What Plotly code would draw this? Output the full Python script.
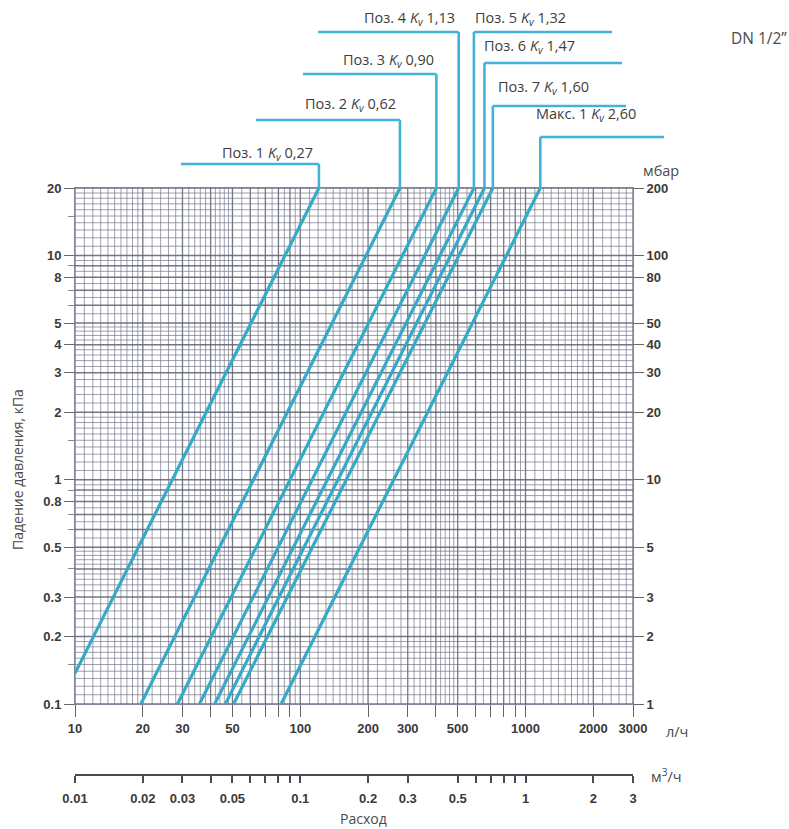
import numpy as np
import plotly.graph_objects as go

# ---------------- data ----------------
kv_values = [0.27, 0.62, 0.90, 1.13, 1.32, 1.47, 1.60, 2.60]
kv_labels = ["Поз. 1", "Поз. 2", "Поз. 3", "Поз. 4", "Поз. 5", "Поз. 6", "Поз. 7", "Макс. 1"]
kv_text = ["0,27", "0,62", "0,90", "1,13", "1,32", "1,47", "1,60", "2,60"]
# line end points: flow (l/h) / pressure drop (kPa)
q_top = [121, 277, 402, 505, 590, 657, 716, 1163]
dp_top = [20, 20, 20, 20, 20, 20, 20, 20]
q_bot = [10, 19.6, 28.5, 35.7, 41.7, 46.5, 50.6, 82.2]
dp_bot = [0.137, 0.1, 0.1, 0.1, 0.1, 0.1, 0.1, 0.1]

x_ticks = [10, 20, 30, 50, 100, 200, 300, 500, 1000, 2000, 3000]
x_minor = [40, 60, 70, 80, 90, 400, 600, 700, 800, 900]
x_short = [15, 150, 1500]
y_ticks = [0.1, 0.2, 0.3, 0.5, 0.8, 1, 2, 3, 4, 5, 8, 10, 20]
y_tick_text = ["0.1", "0.2", "0.3", "0.5", "0.8", "1", "2", "3", "4", "5", "8", "10", "20"]
y_minor = [0.15, 0.4, 0.6, 0.7, 0.9, 1.5, 6, 7, 9, 15]
mbar_ticks = [1, 2, 3, 5, 10, 20, 30, 40, 50, 80, 100, 200]
m3_ticks = [0.01, 0.02, 0.03, 0.05, 0.1, 0.2, 0.3, 0.5, 1, 2, 3]
m3_minor = [0.04, 0.06, 0.07, 0.08, 0.09, 0.6, 0.7, 0.8, 0.9]

X_RANGE = [10, 3000]
Y_RANGE = [0.1, 20]

# ---------------- layout geometry ----------------
W, H = 789, 829
ML, MR, MT, MB = 75, 156, 188, 20
PW = W - ML - MR
PH = H - MT - MB
PLOT_BOTTOM = 704


def px_x(px):
    return (px - ML) / PW


def px_y(py):
    return (H - MB - py) / PH


def q_to_paper(q):
    return (np.log10(q) - np.log10(X_RANGE[0])) / (np.log10(X_RANGE[1]) - np.log10(X_RANGE[0]))


y_dom0 = px_y(PLOT_BOTTOM)

fig = go.Figure()

# ---------------- dense grid ----------------
def grid_values(lo, hi):
    vals, major = [], []
    d = 10.0 ** np.floor(np.log10(lo) - 1e-9)
    while d < hi * 1.0001:
        for m in list(np.arange(1, 2, 0.1)) + list(np.arange(2, 5, 0.2)) + list(np.arange(5, 10, 0.5)):
            v = round(m * d, 10)
            if lo * 0.9999 <= v <= hi * 1.0001:
                if abs(m - round(m)) < 1e-9:
                    major.append(v)
                else:
                    vals.append(v)
        d *= 10
    return vals, major


gx_min, gx_maj = grid_values(*X_RANGE)
gy_min, gy_maj = grid_values(*Y_RANGE)


def vlines(vals):
    xs, ys = [], []
    for v in vals:
        xs += [v, v, None]
        ys += [Y_RANGE[0], Y_RANGE[1], None]
    return xs, ys


def hlines(vals):
    xs, ys = [], []
    for v in vals:
        xs += [X_RANGE[0], X_RANGE[1], None]
        ys += [v, v, None]
    return xs, ys


GMIN = "rgba(112,115,134,0.68)"
GMAJ = "rgba(92,95,112,0.85)"
for vals, col, wd in [(gx_min, GMIN, 1), (gx_maj, GMAJ, 1.3)]:
    xs, ys = vlines(vals)
    fig.add_trace(go.Scatter(x=xs, y=ys, mode="lines", line=dict(color=col, width=wd),
                             hoverinfo="skip", showlegend=False))
for vals, col, wd in [(gy_min, GMIN, 1), (gy_maj, GMAJ, 1.3)]:
    xs, ys = hlines(vals)
    fig.add_trace(go.Scatter(x=xs, y=ys, mode="lines", line=dict(color=col, width=wd),
                             hoverinfo="skip", showlegend=False))

# ---------------- Kv lines ----------------
LINE_COL = "#35a9c6"
for i in range(len(kv_values)):
    fig.add_trace(go.Scatter(x=[q_bot[i], q_top[i]], y=[dp_bot[i], dp_top[i]], mode="lines",
                             line=dict(color=LINE_COL, width=3.2), hoverinfo="skip", showlegend=False))

# dummy traces for secondary axes
fig.add_trace(go.Scatter(x=[None], y=[None], xaxis="x2", yaxis="y", showlegend=False, hoverinfo="skip"))
fig.add_trace(go.Scatter(x=[None], y=[None], xaxis="x", yaxis="y2", showlegend=False, hoverinfo="skip"))

# ---------------- callouts ----------------
CALL_COL = "#42b2da"
callout_y_px = [164, 120, 74, 32, 32, 63, 106, 137]
callout_end_px = [181, 256, 303, 318, 612, 622, 626, 664]
text_y_px = [153, 104, 61, 19, 19, 46, 88, 115]
text_x_px = [315, 398, 436, 457, 473, 482, 496, 534]
shapes = []
annotations = []
for i in range(len(kv_values)):
    xv = q_to_paper(q_top[i])
    yc = px_y(callout_y_px[i])
    shapes.append(dict(type="line", xref="paper", yref="paper", x0=xv, x1=xv, y0=1.0, y1=yc,
                       line=dict(color=CALL_COL, width=2.6)))
    shapes.append(dict(type="line", xref="paper", yref="paper", x0=xv, x1=px_x(callout_end_px[i]),
                       y0=yc, y1=yc, line=dict(color=CALL_COL, width=2.6)))
    left = i < 4
    annotations.append(dict(
        xref="paper", yref="paper", x=px_x(text_x_px[i]), y=px_y(text_y_px[i]),
        xanchor="right" if left else "left", yanchor="middle", showarrow=False,
        text=f"{kv_labels[i]} <i>K<sub>v</sub></i> {kv_text[i]}",
        font=dict(family="Open Sans", size=14.5, color="#3d3d3d")))

TXT = dict(family="Open Sans", color="#4a4a4a")
annotations += [
    dict(xref="paper", yref="paper", x=px_x(729), y=px_y(38), xanchor="left", yanchor="middle",
         showarrow=False, text="DN 1/2”", font=dict(size=15.5, **TXT)),
    dict(xref="paper", yref="paper", x=px_x(641), y=px_y(170), xanchor="left", yanchor="middle",
         showarrow=False, text="мбар", font=dict(size=14.5, **TXT)),
    dict(xref="paper", yref="paper", x=px_x(664), y=px_y(731), xanchor="left", yanchor="middle",
         showarrow=False, text="л/ч", font=dict(size=14.5, **TXT)),
    dict(xref="paper", yref="paper", x=px_x(649), y=px_y(775), xanchor="left", yanchor="middle",
         showarrow=False, text="м<sup>3</sup>/ч", font=dict(size=14.5, **TXT)),
    dict(xref="paper", yref="paper", x=px_x(364), y=px_y(818), xanchor="center", yanchor="middle",
         showarrow=False, text="Расход", font=dict(size=14, **TXT)),
    dict(xref="paper", yref="paper", x=px_x(17), y=px_y(470), xanchor="center", yanchor="middle",
         showarrow=False, text="Падение давления, кПа", textangle=-90, font=dict(size=14, **TXT)),
]

TICKFONT = dict(family="Liberation Sans", size=13, color="#3a3a3a", weight="bold")
AXCOL = "#80859a"
lx = [np.log10(v) for v in X_RANGE]
ly = [np.log10(v) for v in Y_RANGE]

fig.update_layout(
    width=W, height=H, margin=dict(l=ML, r=MR, t=MT, b=MB),
    paper_bgcolor="white", plot_bgcolor="white", showlegend=False,
    shapes=shapes, annotations=annotations,
    xaxis=dict(type="log", range=lx, domain=[0, 1], anchor="y", showgrid=False, zeroline=False,
               showline=True, mirror=True, linecolor=AXCOL, linewidth=1,
               tickmode="array", tickvals=x_ticks, ticktext=[str(v) for v in x_ticks],
               ticks="outside", ticklen=12, tickcolor="#666", tickwidth=1.2, tickfont=TICKFONT,
               minor=dict(tickmode="array", tickvals=x_minor, ticks="outside", ticklen=12,
                          tickcolor="#666", tickwidth=1.2, showgrid=False)),
    xaxis4=dict(type="log", range=lx, overlaying="x", anchor="y", side="bottom", showgrid=False,
                zeroline=False, showline=False, tickmode="array", tickvals=x_short,
                ticks="outside", ticklen=5, tickcolor="#666", tickwidth=1.2, showticklabels=False),
    yaxis=dict(type="log", range=ly, domain=[y_dom0, 1], anchor="x", showgrid=False, zeroline=False,
               showline=True, mirror=True, linecolor=AXCOL, linewidth=1,
               tickmode="array", tickvals=y_ticks, ticktext=y_tick_text,
               ticks="outside", ticklen=10, tickcolor="#666", tickwidth=1.2, tickfont=TICKFONT,
               minor=dict(tickmode="array", tickvals=y_minor, ticks="outside", ticklen=6,
                          tickcolor="#888", tickwidth=1, showgrid=False)),
    yaxis2=dict(type="log", range=[np.log10(1), np.log10(200)], overlaying="y", side="right",
                anchor="x", showgrid=False, zeroline=False, showline=False,
                tickmode="array", tickvals=mbar_ticks, ticktext=[str(v) for v in mbar_ticks],
                ticks="outside", ticklen=10, tickcolor="#666", tickwidth=1.2, tickfont=TICKFONT),
    xaxis2=dict(type="log", range=[np.log10(0.01), np.log10(3)], overlaying="x", anchor="free",
                position=px_y(775), showgrid=False, zeroline=False, showline=True,
                linecolor="#4a4a55", linewidth=2,
                tickmode="array", tickvals=m3_ticks, ticktext=[str(v) for v in m3_ticks],
                ticks="outside", ticklen=7, tickcolor="#4a4a55", tickwidth=2, tickfont=TICKFONT,
                ticklabelstandoff=4,
                minor=dict(tickmode="array", tickvals=m3_minor, ticks="outside", ticklen=7,
                           tickcolor="#4a4a55", tickwidth=2, showgrid=False)),
    xaxis3=dict(type="log", range=[np.log10(0.01), np.log10(3)], overlaying="x", anchor="free",
                position=px_y(775), showgrid=False, zeroline=False, showline=False,
                tickmode="array", tickvals=m3_ticks + m3_minor, showticklabels=False,
                ticks="inside", ticklen=7, tickcolor="#4a4a55", tickwidth=2),
)

fig.write_html("out.html")
